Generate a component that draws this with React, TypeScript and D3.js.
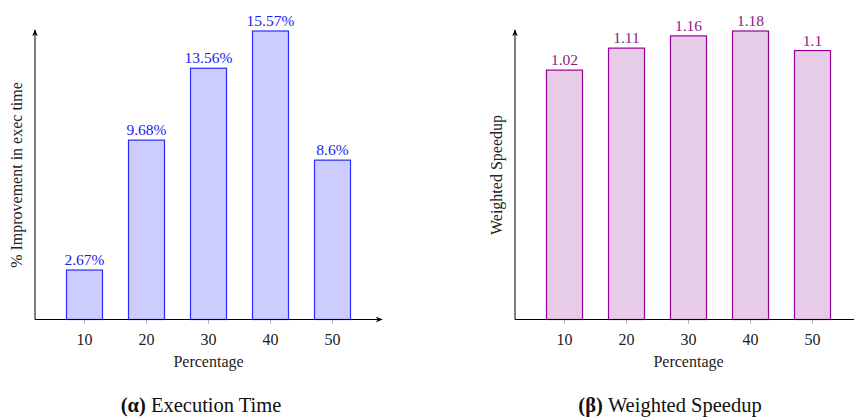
import * as d3 from "d3";
import { useEffect, useRef } from "react";

const categories = ["10", "20", "30", "40", "50"];
const execValues = [2.67, 9.68, 13.56, 15.57, 8.6];
const execLabels = ["2.67%", "9.68%", "13.56%", "15.57%", "8.6%"];
const speedValues = [1.02, 1.11, 1.16, 1.18, 1.1];
const speedLabels = ["1.02", "1.11", "1.16", "1.18", "1.1"];

const svgX = 854;
const svgY = 419;
const FONT = "'Liberation Serif', 'DejaVu Serif', serif";

export default function App() {
  const ref = useRef<SVGSVGElement>(null);

  useEffect(() => {
    const svg = d3.select(ref.current);
    svg.selectAll("*").remove();

    const defs = svg.append("defs");
    defs.append("marker")
      .attr("id", "arrow")
      .attr("viewBox", "0 0 10 10")
      .attr("refX", 9)
      .attr("refY", 5)
      .attr("markerWidth", 7)
      .attr("markerHeight", 7)
      .attr("markerUnits", "userSpaceOnUse")
      .attr("orient", "auto")
      .append("path")
      .attr("d", "M0,1 L10,5 L0,9 L3,5 Z")
      .attr("fill", "#000");

    const drawPanel = (opts) => {
      const { left, first, values, labels, fill, stroke, textColor, yLabel, yLabelX, caption, captionX, arrowX } = opts;
      const base = 319.5;
      const top = 31;
      const g = svg.append("g");

      // category positions, 62px apart
      const step = 62;
      const x = d3.scalePoint().domain(categories).range([first, first + step * (categories.length - 1)]);
      const y = d3.scaleLinear().domain([0, d3.max(values)]).range([base, top]);
      const bw = 36;

      // bars
      g.selectAll("rect.bar")
        .data(values)
        .join("rect")
        .attr("class", "bar")
        .attr("x", (d, i) => x(categories[i]) - bw / 2)
        .attr("y", (d) => y(d))
        .attr("width", bw)
        .attr("height", (d) => base - y(d))
        .attr("fill", fill)
        .attr("stroke", stroke)
        .attr("stroke-width", 1.2);

      // value labels
      g.selectAll("text.val")
        .data(values)
        .join("text")
        .attr("class", "val")
        .attr("x", (d, i) => x(categories[i]))
        .attr("y", (d) => y(d) - 5)
        .attr("text-anchor", "middle")
        .attr("font-family", FONT)
        .attr("font-size", 15.5)
        .attr("fill", textColor)
        .text((d, i) => labels[i]);

      // ticks
      g.selectAll("line.tick")
        .data(categories)
        .join("line")
        .attr("class", "tick")
        .attr("x1", (d) => x(d))
        .attr("x2", (d) => x(d))
        .attr("y1", base)
        .attr("y2", base + 4)
        .attr("stroke", "#999")
        .attr("stroke-width", 0.8);

      g.selectAll("text.tickl")
        .data(categories)
        .join("text")
        .attr("class", "tickl")
        .attr("x", (d) => x(d))
        .attr("y", base + 25)
        .attr("text-anchor", "middle")
        .attr("font-family", FONT)
        .attr("font-size", 16)
        .attr("fill", "#222")
        .text((d) => d);

      // axes
      g.append("line")
        .attr("x1", left).attr("y1", base)
        .attr("x2", left).attr("y2", 30)
        .attr("stroke", "#000").attr("stroke-width", 1)
        .attr("marker-end", "url(#arrow)");
      const xl = g.append("line")
        .attr("x1", left).attr("y1", base)
        .attr("x2", arrowX).attr("y2", base)
        .attr("stroke", "#000").attr("stroke-width", 1);
      if (arrowX < svgX) xl.attr("marker-end", "url(#arrow)");

      // axis labels
      g.append("text")
        .attr("x", (x("10") + x("50")) / 2)
        .attr("y", base + 47)
        .attr("text-anchor", "middle")
        .attr("font-family", FONT)
        .attr("font-size", 16)
        .attr("fill", "#222")
        .text("Percentage");

      g.append("text")
        .attr("transform", `translate(${yLabelX},175) rotate(-90)`)
        .attr("text-anchor", "middle")
        .attr("font-family", FONT)
        .attr("font-size", 16)
        .attr("fill", "#222")
        .text(yLabel);

      // caption
      const cap = g.append("text")
        .attr("x", captionX)
        .attr("y", 412)
        .attr("text-anchor", "middle")
        .attr("font-family", FONT)
        .attr("font-size", 20.5)
        .attr("fill", "#111");
      cap.append("tspan").attr("font-weight", "bold").text(caption[0]);
      cap.append("tspan").text(" " + caption[1]);
    };

    drawPanel({
      left: 35, first: 84.5, values: execValues, labels: execLabels,
      fill: "#ccccff", stroke: "#2b2bff", textColor: "#2020ee",
      yLabel: "% Improvement in exec time", yLabelX: 22,
      caption: ["(\u03b1)", "Execution Time"], captionX: 201, arrowX: 382,
    });
    drawPanel({
      left: 515, first: 564.5, values: speedValues, labels: speedLabels,
      fill: "#e6cce6", stroke: "#990099", textColor: "#8a1a8a",
      yLabel: "Weighted Speedup", yLabelX: 502,
      caption: ["(\u03b2)", "Weighted Speedup"], captionX: 670, arrowX: 856,
    });
  }, []);

  return (
    <svg
      ref={ref}
      width={svgX}
      height={svgY}
      style={{ position: "absolute", left: 0, top: 0, background: "#fff" }}
    />
  );
}
